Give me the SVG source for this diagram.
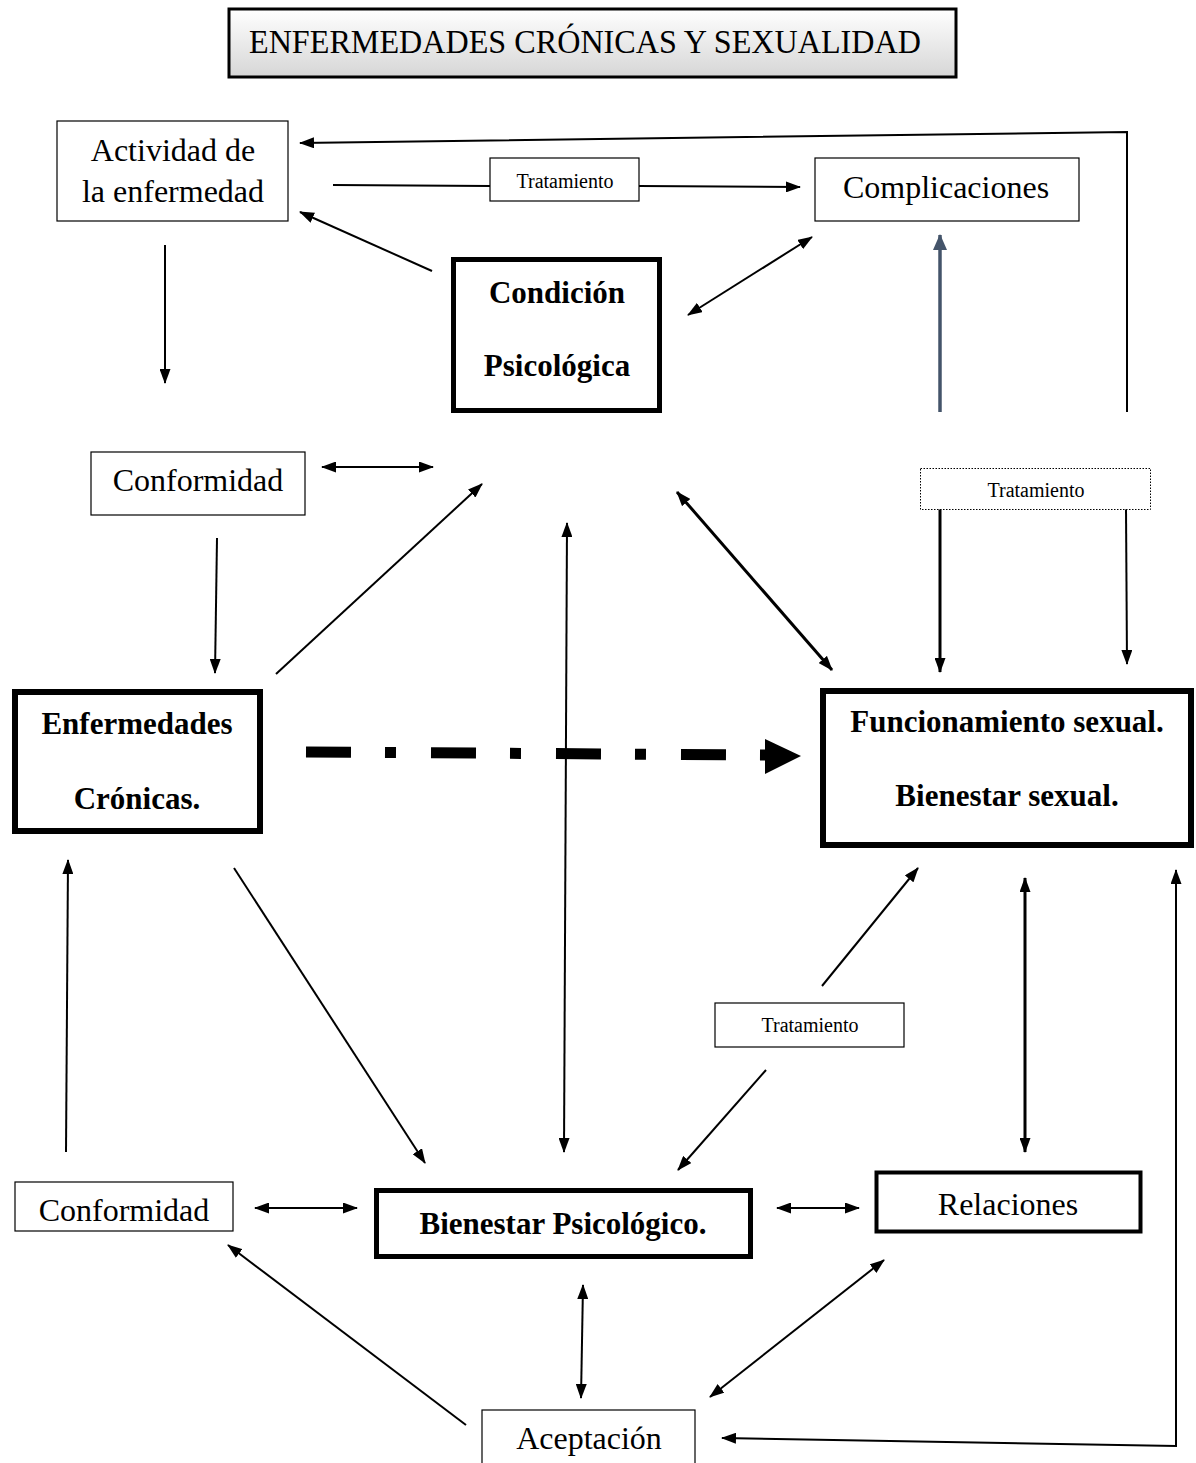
<svg xmlns="http://www.w3.org/2000/svg" width="1196" height="1463" viewBox="0 0 1196 1463">
<style>
text{font-family:"Liberation Serif","Times New Roman",serif;fill:#000}
.t{font-size:32px}
.b{font-size:31px;font-weight:bold}
.s{font-size:20px}
.thin{fill:#fff;stroke:#000;stroke-width:1.2}
.c{fill:none;stroke:#000;stroke-width:2}
.ck{fill:none;stroke:#000;stroke-width:3}
</style>
<defs>
<linearGradient id="g" x1="0" y1="0" x2="0" y2="1">
<stop offset="0" stop-color="#ffffff"/>
<stop offset="1" stop-color="#d6d6d6"/>
</linearGradient>
<marker id="a" viewBox="0 0 15 11" refX="14" refY="5.5" markerWidth="15" markerHeight="11" markerUnits="userSpaceOnUse" orient="auto-start-reverse">
<path d="M0,0 L15,5.5 L0,11 z" fill="#000"/>
</marker>
<marker id="ag" viewBox="0 0 16 14" refX="15" refY="7" markerWidth="16" markerHeight="14" markerUnits="userSpaceOnUse" orient="auto">
<path d="M0,0 L16,7 L0,14 z" fill="#44546A"/>
</marker>
</defs>
<rect width="1196" height="1463" fill="#fff"/>

<g id="title">
<rect x="229" y="9" width="727" height="68" fill="url(#g)" stroke="#000" stroke-width="3"/>
<text x="585" y="53" text-anchor="middle" textLength="672" lengthAdjust="spacingAndGlyphs" style="font-size:34px">ENFERMEDADES CRÓNICAS Y SEXUALIDAD</text>
</g>

<g id="connectors">
<line class="c" x1="333" y1="185" x2="490" y2="186"/>
<line class="c" x1="639" y1="186" x2="800" y2="187" marker-end="url(#a)"/>
<line class="c" x1="432" y1="271" x2="300" y2="212" marker-end="url(#a)"/>
<line class="c" x1="688" y1="315" x2="812" y2="237" marker-start="url(#a)" marker-end="url(#a)"/>
<polyline class="c" points="1127,412 1127,132 300,143" marker-end="url(#a)"/>
<line x1="940" y1="412" x2="940" y2="235" stroke="#44546A" stroke-width="3.5" marker-end="url(#ag)"/>
<line class="c" x1="165" y1="245" x2="165" y2="383" marker-end="url(#a)"/>
<line class="c" x1="322" y1="467" x2="433" y2="467" marker-start="url(#a)" marker-end="url(#a)"/>
<line class="ck" x1="940" y1="509" x2="940" y2="672" marker-end="url(#a)"/>
<line class="c" x1="1126" y1="509" x2="1127" y2="664" marker-end="url(#a)"/>
<line class="c" x1="217" y1="538" x2="215" y2="673" marker-end="url(#a)"/>
<line class="c" x1="276" y1="674" x2="482" y2="484" marker-end="url(#a)"/>
<line class="c" x1="567" y1="523" x2="564" y2="1152" marker-start="url(#a)" marker-end="url(#a)"/>
<line class="ck" x1="677" y1="492" x2="832" y2="670" marker-start="url(#a)" marker-end="url(#a)"/>
<line x1="306" y1="752" x2="768" y2="755" stroke="#000" stroke-width="11" stroke-dasharray="45 34 11 35"/>
<polygon points="765,739 801,756 765,774" fill="#000"/>
<line class="c" x1="234" y1="868" x2="425" y2="1163" marker-end="url(#a)"/>
<line class="c" x1="66" y1="1152" x2="68" y2="860" marker-end="url(#a)"/>
<line class="c" x1="822" y1="986" x2="918" y2="868" marker-end="url(#a)"/>
<line class="c" x1="766" y1="1070" x2="678" y2="1170" marker-end="url(#a)"/>
<line class="ck" x1="1025" y1="878" x2="1025" y2="1152" marker-start="url(#a)" marker-end="url(#a)"/>
<polyline class="c" points="1176,870 1176,1446 722,1438" marker-start="url(#a)" marker-end="url(#a)"/>
<line class="c" x1="255" y1="1208" x2="357" y2="1208" marker-start="url(#a)" marker-end="url(#a)"/>
<line class="c" x1="777" y1="1208" x2="859" y2="1208" marker-start="url(#a)" marker-end="url(#a)"/>
<line class="c" x1="583" y1="1285" x2="581" y2="1398" marker-start="url(#a)" marker-end="url(#a)"/>
<line class="c" x1="884" y1="1260" x2="710" y2="1397" marker-start="url(#a)" marker-end="url(#a)"/>
<line class="c" x1="466" y1="1425" x2="228" y2="1245" marker-end="url(#a)"/>
</g>

<g id="actividad">
<rect class="thin" x="57" y="121" width="231" height="100"/>
<text class="t" x="173" y="161" text-anchor="middle">Actividad de</text>
<text class="t" x="173" y="202" text-anchor="middle">la enfermedad</text>
</g>

<g id="tratamiento1">
<rect class="thin" x="490" y="158" width="149" height="43"/>
<text class="s" x="565" y="188" text-anchor="middle">Tratamiento</text>
</g>

<g id="complicaciones">
<rect class="thin" x="815" y="158" width="264" height="63"/>
<text class="t" x="946" y="198" text-anchor="middle">Complicaciones</text>
</g>

<g id="condicion">
<rect x="453.5" y="259.5" width="206" height="151" fill="#fff" stroke="#000" stroke-width="5"/>
<text class="b" x="557" y="303" text-anchor="middle">Condición</text>
<text class="b" x="557" y="376" text-anchor="middle">Psicológica</text>
</g>

<g id="conformidad1">
<rect class="thin" x="91" y="452" width="214" height="63"/>
<text class="t" x="198" y="491" text-anchor="middle">Conformidad</text>
</g>

<g id="tratamiento2">
<rect x="920.5" y="468.5" width="230" height="41" fill="#fff" stroke="#000" stroke-width="1" stroke-dasharray="1.5 1.5"/>
<text class="s" x="1036" y="497" text-anchor="middle">Tratamiento</text>
</g>

<g id="enfermedades">
<rect x="15" y="692" width="245" height="139" fill="#fff" stroke="#000" stroke-width="6"/>
<text class="b" x="137" y="734" text-anchor="middle">Enfermedades</text>
<text class="b" x="137" y="809" text-anchor="middle">Crónicas.</text>
</g>

<g id="funcionamiento">
<rect x="823" y="691" width="368" height="154" fill="#fff" stroke="#000" stroke-width="6"/>
<text class="b" x="1007" y="732" text-anchor="middle">Funcionamiento sexual.</text>
<text class="b" x="1007" y="806" text-anchor="middle">Bienestar sexual.</text>
</g>

<g id="tratamiento3">
<rect class="thin" x="715" y="1003" width="189" height="44"/>
<text class="s" x="810" y="1032" text-anchor="middle">Tratamiento</text>
</g>

<g id="conformidad2">
<rect class="thin" x="15" y="1182" width="218" height="49"/>
<text class="t" x="124" y="1221" text-anchor="middle">Conformidad</text>
</g>

<g id="bienestar">
<rect x="376.5" y="1190.5" width="374" height="66" fill="#fff" stroke="#000" stroke-width="5"/>
<text class="b" x="563" y="1234" text-anchor="middle">Bienestar Psicológico.</text>
</g>

<g id="relaciones">
<rect x="876.5" y="1172.5" width="264" height="59" fill="#fff" stroke="#000" stroke-width="4"/>
<text class="t" x="1008" y="1215" text-anchor="middle">Relaciones</text>
</g>

<g id="aceptacion">
<rect class="thin" x="482" y="1410" width="213" height="60"/>
<text class="t" x="589" y="1449" text-anchor="middle">Aceptación</text>
</g>
</svg>
